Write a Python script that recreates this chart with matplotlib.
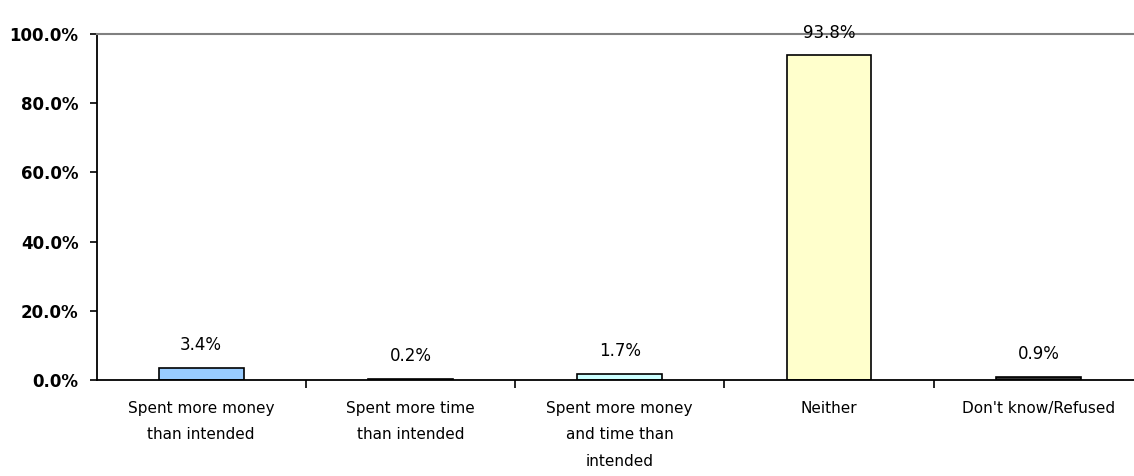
import numpy as np
import matplotlib
matplotlib.use("Agg")
import matplotlib.pyplot as plt
from matplotlib.ticker import FuncFormatter, FixedLocator

## data
categories = ["Spent more money\nthan intended",
              "Spent more time\nthan intended",
              "Spent more money\nand time than\nintended",
              "Neither",
              "Don't know/Refused"]
values = [3.4, 0.2, 1.7, 93.8, 0.9]
value_labels = ["3.4%", "0.2%", "1.7%", "93.8%", "0.9%"]
colors = ["#99CCFF", "#FF99CC", "#CCFFFF", "#FFFFCC", "#333333"]

plt.rcParams['font.family'] = ['DejaVu Sans']

fig = plt.figure(figsize=(11.34, 4.76), dpi=100)
ax = fig.add_axes([96.5 / 1134, 1 - 380 / 476, (1143 - 96.5) / 1134, (380 - 34) / 476])

x = np.arange(len(categories))
bars = ax.bar(x, values, width=0.405, color=colors, edgecolor="black", linewidth=1.2)

for xi, v, lab in zip(x, values, value_labels):
    ax.annotate(lab, (xi, v), xytext=(0, 10), textcoords="offset points",
                ha="center", va="bottom", fontsize=12)

ax.set_xlim(-0.5, 4.5)
ax.set_ylim(0, 100)
ax.set_yticks([0, 20, 40, 60, 80, 100])
ax.yaxis.set_major_formatter(FuncFormatter(lambda v, p: f"{v:.1f}%"))
for t in ax.get_yticklabels():
    t.set_fontweight("bold")
ax.tick_params(axis="y", labelsize=12, length=5, width=1.2, direction="out", pad=8)

# category labels at centres, tick marks at boundaries
ax.set_xticks(x)
ax.set_xticklabels(categories, fontsize=11, linespacing=1.95, va="top")
ax.tick_params(axis="x", which="major", length=0, pad=15)
ax.xaxis.set_minor_locator(FixedLocator([0.5, 1.5, 2.5, 3.5]))
ax.tick_params(axis="x", which="minor", length=6, width=1.2, direction="out")

ax.spines["right"].set_visible(False)
ax.spines["top"].set_color("#808080")
ax.spines["top"].set_linewidth(1.5)
ax.spines["left"].set_linewidth(1.3)
ax.spines["bottom"].set_linewidth(1.3)

fig.savefig("out.png", dpi=100)
